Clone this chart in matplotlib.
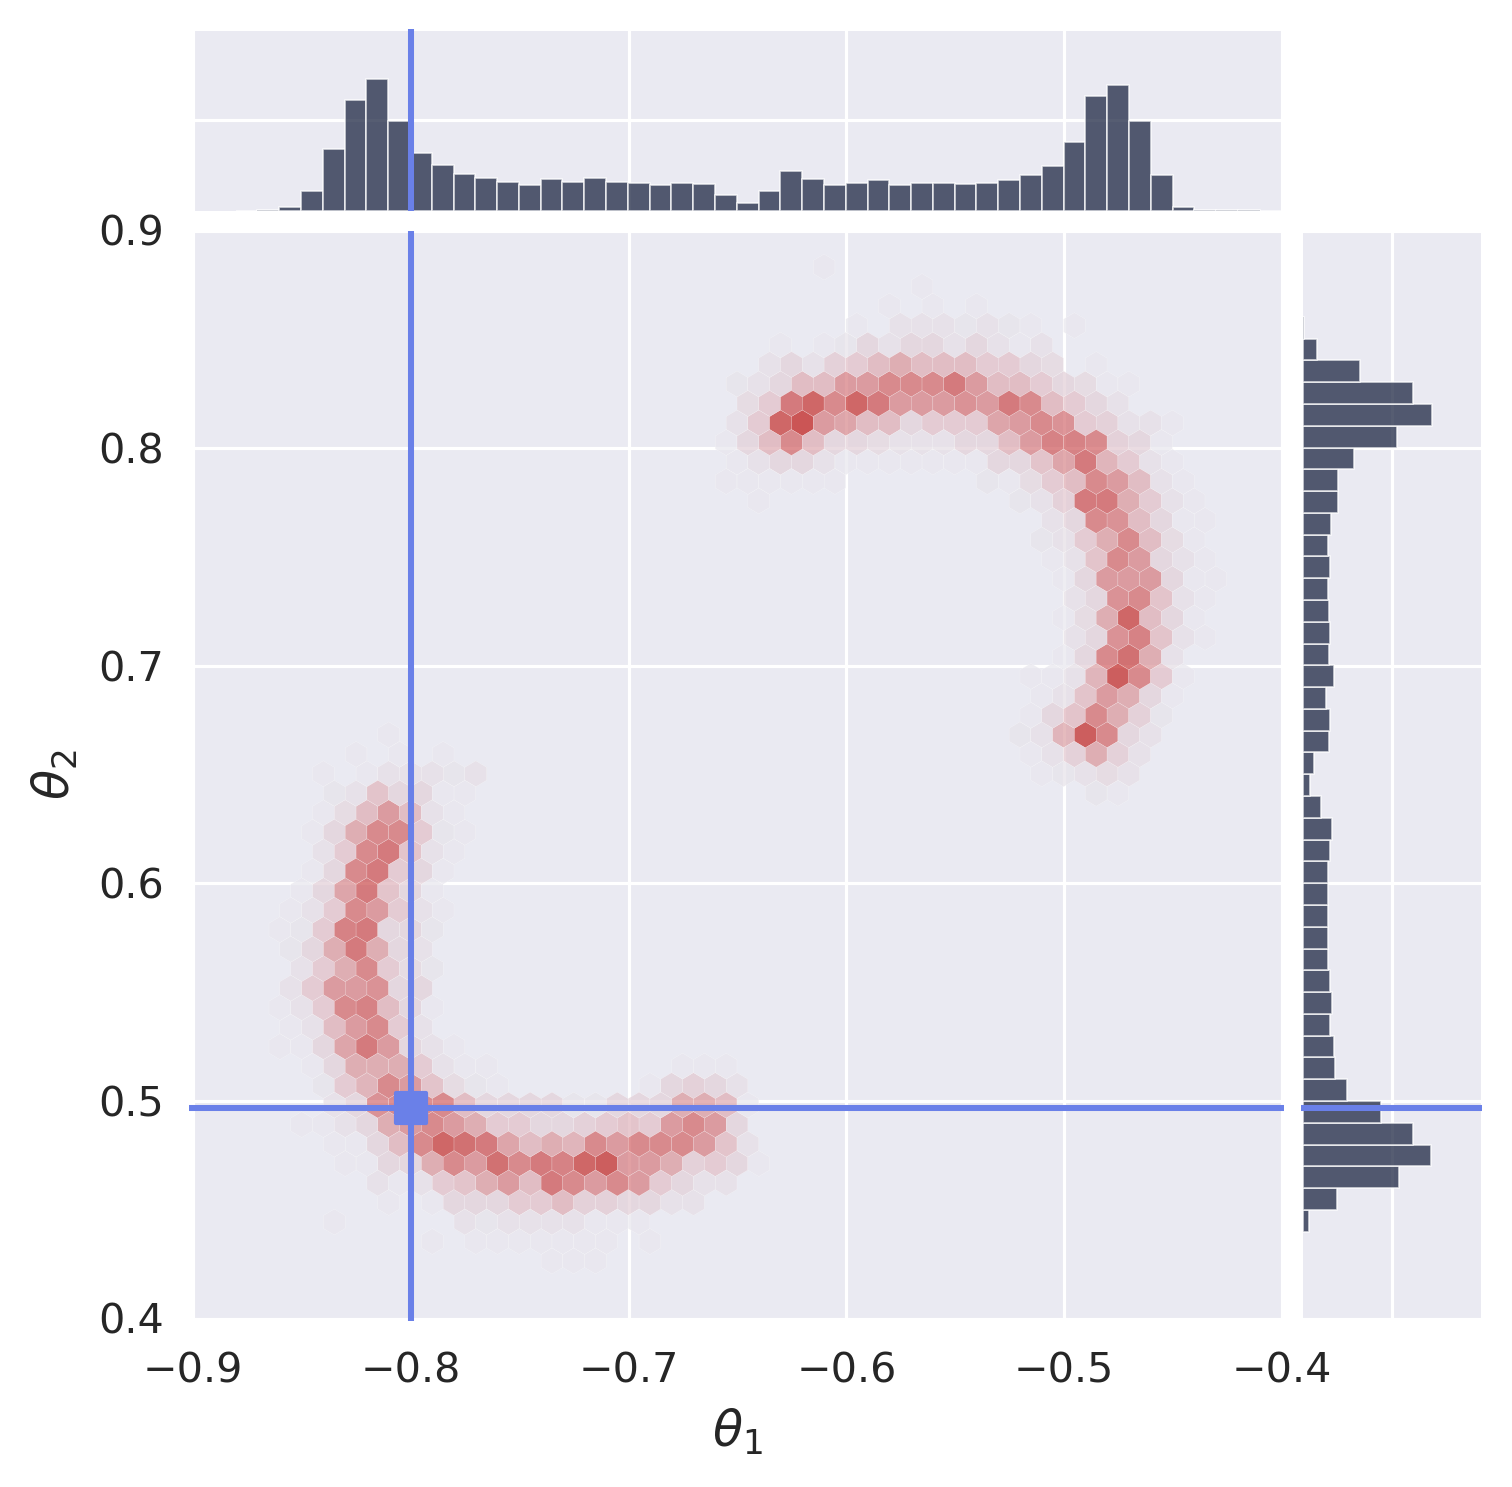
import numpy as np
import matplotlib
matplotlib.use('Agg')
import matplotlib.pyplot as plt
from matplotlib.colors import LinearSegmentedColormap
from matplotlib.markers import MarkerStyle

plt.rcParams['font.family'] = 'DejaVu Sans'
plt.rcParams['mathtext.fontset'] = 'dejavusans'

true_theta1 = -0.8
true_theta2 = 0.4966

# marginal histograms
theta1_start = -0.88055
theta1_width = 0.01001
theta1_counts = [1, 2, 11, 59, 185, 332, 394, 269, 172, 137, 110, 97, 88, 77, 94, 88, 97, 88, 85, 79,
                 85, 82, 49, 25, 59, 118, 94, 79, 85, 91, 79, 85, 85, 82, 85, 91, 106, 133, 205, 343,
                 376, 269, 106, 12, 3, 2, 2, 1]
theta2_start = 0.4399
theta2_width = 0.01001
theta2_counts = [19, 103, 289, 385, 331, 235, 133, 97, 94, 82, 88, 82, 76, 76, 76, 76, 76, 82, 88, 55,
                 22, 34, 79, 82, 70, 94, 79, 82, 79, 76, 82, 76, 85, 106, 106, 154, 283, 388, 331, 173,
                 43, 4]

# hexbin lattice
hex_theta1 = -0.62023
hex_theta2 = 0.81154
hex_sx = 0.01
hex_sy = 0.017912

# density per hexagon: (row, first column, levels), 0 = empty cell
hex_rows = [
    (-8, 1, [1]),
    (-7, 5, [1]),
    (-6, 4, [1, 0, 1, 0, 1]),
    (-5, 2, [1, 0, 2, 2, 2, 1.5, 2, 1.5, 1, 0, 1]),
    (-4, -1, [1, 0, 1, 1.5, 3, 2, 3, 3, 2, 3, 2, 1, 2]),
    (-3, -2, [2, 3, 2, 3.5, 4, 5, 6, 5, 5, 5, 4, 4, 3, 2.5, 0, 1]),
    (-2, -3, [1.5, 2, 3, 5, 5, 7, 7, 8, 8, 8, 9, 7, 5, 5, 4, 3, 2.5, 1, 1]),
    (-1, -3, [2.5, 4, 9, 10, 8, 10, 9, 7, 7, 7, 7.5, 7, 9, 8, 5, 4, 3, 2]),
    (0, -3, [2, 4, 10, 11, 7, 6.5, 5, 5, 3, 4, 4, 4, 6.5, 7, 8, 7.5, 4, 3.5, 2, 2, 1]),
    (1, -4, [1, 3, 5, 8, 5, 3, 3, 2.5, 2, 2, 2, 3, 3, 5, 7, 8.5, 8.5, 8, 3.5, 3, 1]),
    (2, -3, [1, 2, 3, 3, 2, 1, 1, 1, 1, 1, 1, 1, 3, 3, 4.5, 6.5, 9, 5.5, 4, 2, 1]),
    (3, -4, [1, 1, 1, 1, 1, 1, 0, 0, 0, 0, 0, 0, 1.5, 1, 2.5, 4, 5, 8, 7, 5, 2, 1]),
    (4, -2, [1, 0, 0, 0, 0, 0, 0, 0, 0, 0, 0, 0, 1.5, 2, 3.5, 9, 9, 6, 4, 2, 1]),
    (5, 11, [2, 3, 8, 7.5, 5, 3, 1, 1]),
    (6, 11, [1.5, 2, 4, 6, 8, 5, 2.5, 1]),
    (7, 11, [1, 2, 4.5, 8, 7, 3, 2, 1]),
    (8, 12, [1, 3, 7, 7, 7, 3, 1, 1]),
    (9, 12, [2, 3, 7.5, 8, 4.5, 2, 1]),
    (10, 12, [1, 2.5, 6, 10, 5, 3, 1]),
    (11, 12, [2, 3, 7.5, 8.5, 4.5, 2, 1]),
    (12, 12, [1, 3, 8, 9.5, 6, 2]),
    (13, 10, [1, 1, 2, 5.5, 10.5, 8, 4, 1]),
    (14, 11, [1, 2, 4.5, 7, 6, 3, 1]),
    (15, 10, [1, 3, 4.5, 8, 6, 3.5, 1.5]),
    (16, 10, [1.5, 2, 5.5, 10.5, 8, 3, 2]),
    (17, 10, [1, 2, 3.5, 6, 3.5, 2]),
    (18, 11, [1, 1.5, 2, 2.5, 2]),
    (19, 13, [1.5, 1]),
    (16, -19, [1]),
    (17, -21, [1, 0, 1, 0, 1]),
    (18, -22, [1, 0, 1, 2, 2, 2, 1.5, 2]),
    (19, -22, [1.5, 2, 4.5, 3, 3, 1, 1]),
    (20, -22, [1, 2.5, 5, 7, 5, 2, 1]),
    (21, -23, [1, 3, 6, 8, 8, 4, 1.5, 1]),
    (22, -22, [2, 4, 8, 9, 4.5, 2, 1]),
    (23, -23, [1, 3, 8, 9, 4, 3, 1]),
    (24, -23, [1, 3, 6.5, 9, 4.5, 3, 1]),
    (25, -24, [1, 2, 4, 8, 7, 4, 2, 1]),
    (26, -24, [1, 1.5, 4, 8.5, 9, 3, 3, 1.5]),
    (27, -24, [1.5, 3, 6, 9, 6, 3, 2]),
    (28, -23, [2, 4, 6, 8, 4, 2.5, 1.5]),
    (29, -24, [2, 4, 7, 7, 7.5, 3, 3]),
    (30, -24, [1, 2, 4, 8, 8.5, 5, 3, 1]),
    (31, -24, [1, 2, 5, 7, 8, 4, 2]),
    (32, -24, [1, 1, 3, 6.5, 9, 7, 3, 2, 1]),
    (33, -23, [1, 3, 6, 6, 6, 4, 2, 1, 1, 0, 0, 0, 0, 0, 0, 0, 0, 1, 1, 1]),
    (34, -22, [1.5, 4, 5.5, 8, 7, 4.5, 2.5, 1.5, 1, 0, 0, 0, 0, 0, 0, 1, 3, 3.5, 3, 2]),
    (35, -22, [2, 3, 7.5, 8, 8, 8, 5, 3, 3, 3, 3, 1.5, 1.5, 3, 3, 3, 6, 6, 5, 1]),
    (36, -23, [1, 1, 2, 3, 6, 7, 8, 7, 6, 4, 4, 3, 3, 3.5, 4, 4.5, 4, 7, 8, 7, 3]),
    (37, -22, [1, 1, 3, 5, 8, 10, 9.5, 9, 6.5, 5, 6, 5.5, 8, 7, 8, 8, 8, 7, 4.5, 2]),
    (38, -21, [1, 1, 3, 3, 6, 8, 7, 9.5, 8, 9, 8.5, 10, 10.5, 7, 7, 6, 3.5, 4, 3, 1]),
    (39, -20, [2, 1, 2, 4, 4.5, 6, 7, 5, 9, 8, 7, 8, 7, 4, 3, 2, 2]),
    (40, -19, [1, 0, 1, 3, 3, 3, 4, 4, 5, 3.5, 3.5, 3, 3, 2, 2]),
    (41, -22, [1, 0, 0, 0, 0, 0, 2, 1.5, 2, 2, 2, 2, 1, 1, 1]),
    (42, -17, [1, 0, 1, 1, 1, 1, 1, 1, 1, 0, 1]),
    (43, -12, [1, 1, 1]),
]

# colour seen on the page for levels 1 to 11
level_colors = [(233, 232, 239), (231, 226, 233), (229, 215, 223), (228, 203, 211), (226, 189, 196), (223, 174, 179),
                (220, 155, 160), (217, 138, 142), (212, 122, 125), (207, 103, 103), (203, 85, 85)]

hex_x, hex_y, hex_c = [], [], []
for row, first_col, levels in hex_rows:
    for i, level in enumerate(levels):
        if level > 0:
            hex_x.append(hex_theta1 + (first_col + i + 0.5 * (row % 2)) * hex_sx)
            hex_y.append(hex_theta2 - row * hex_sy / 2)
            hex_c.append(level)

blue = '#6a80e8'
hist_color = '#1e2743'
bg = '#eaeaf2'
ink = '#262626'
hex_alpha = 0.75
W, H = 1512, 1487


def axes_px(x0, x1, y0, y1):
    return fig.add_axes([x0 / W, 1 - y1 / H, (x1 - x0) / W, (y1 - y0) / H])


def style(ax):
    ax.set_facecolor(bg)
    ax.set_axisbelow(True)
    ax.grid(True, color='white', linewidth=0.75)
    ax.tick_params(length=0)
    for spine in ax.spines.values():
        spine.set_visible(False)


fig = plt.figure(figsize=(W / 300, H / 300), dpi=300)
ax = axes_px(193.3, 1281.7, 230.5, 1318.5)
ax_top = axes_px(193.3, 1281.7, 31, 211)
ax_right = axes_px(1302.5, 1481, 230.5, 1318.5)
for a in (ax, ax_top, ax_right):
    style(a)

# undo the alpha so that the cells end up with the colours above
bg_rgb = np.array([234, 234, 242])
cmap_colors = np.clip((np.array(level_colors) - (1 - hex_alpha) * bg_rgb) / hex_alpha, 0, 255) / 255
cmap = LinearSegmentedColormap.from_list('red', cmap_colors)

xmin = hex_theta1 - 28 * hex_sx
ymin = hex_theta2 - 23 * hex_sy
ax.hexbin(hex_x, hex_y, C=hex_c, gridsize=(50, 28), reduce_C_function=np.max,
          extent=(xmin, xmin + 50 * hex_sx, ymin, ymin + 28 * hex_sy),
          cmap=cmap, vmin=1, vmax=11, alpha=hex_alpha, edgecolors='white', linewidths=0.06)

xticks = [-0.9, -0.8, -0.7, -0.6, -0.5, -0.4]
yticks = [0.4, 0.5, 0.6, 0.7, 0.8, 0.9]
ax.set_xlim(-0.9, -0.4)
ax.set_ylim(0.4, 0.9)
ax.set_xticks(xticks)
ax.set_yticks(yticks)
ax.tick_params(labelsize=9.9, labelcolor=ink)
ax.tick_params(axis='x', pad=8)
ax.tick_params(axis='y', pad=7)
ax.set_xlabel(r'$\theta_1$', fontsize=11.8, color=ink, labelpad=3.5)
ax.set_ylabel(r'$\theta_2$', fontsize=11.8, color=ink, labelpad=4.5)

ax_top.bar(theta1_start + np.arange(len(theta1_counts)) * theta1_width, theta1_counts, theta1_width,
           align='edge', color=hist_color, alpha=0.75, edgecolor='white', linewidth=0.4)
ax_top.set_xlim(-0.9, -0.4)
ax_top.set_ylim(0, 537)
ax_top.set_xticks(xticks)
ax_top.set_yticks([270])
ax_top.tick_params(labelbottom=False, labelleft=False)

ax_right.barh(theta2_start + np.arange(len(theta2_counts)) * theta2_width, theta2_counts, theta2_width,
              align='edge', color=hist_color, alpha=0.75, edgecolor='white', linewidth=0.4)
ax_right.set_ylim(0.4, 0.9)
ax_right.set_xlim(0, 533)
ax_right.set_yticks(yticks)
ax_right.set_xticks([268])
ax_right.tick_params(labelbottom=False, labelleft=False)

# true parameter lines, running a little past the axes like the original
line_kw = dict(color=blue, linewidth=1.45, clip_on=False, solid_capstyle='butt', zorder=5)
ax.axvline(true_theta1, ymin=-0.002, ymax=1.0, **line_kw)
ax.axhline(true_theta2, xmin=-0.0035, xmax=1.002, **line_kw)
ax_top.axvline(true_theta1, ymin=0, ymax=1.011, **line_kw)
ax_right.axhline(true_theta2, xmin=-0.008, xmax=1.006, **line_kw)
ax.plot([true_theta1], [true_theta2], marker=MarkerStyle('s', joinstyle='round'), markersize=7.2,
        markerfacecolor=blue, markeredgecolor=blue, markeredgewidth=1, zorder=6)

fig.savefig('out.png', dpi=300)
